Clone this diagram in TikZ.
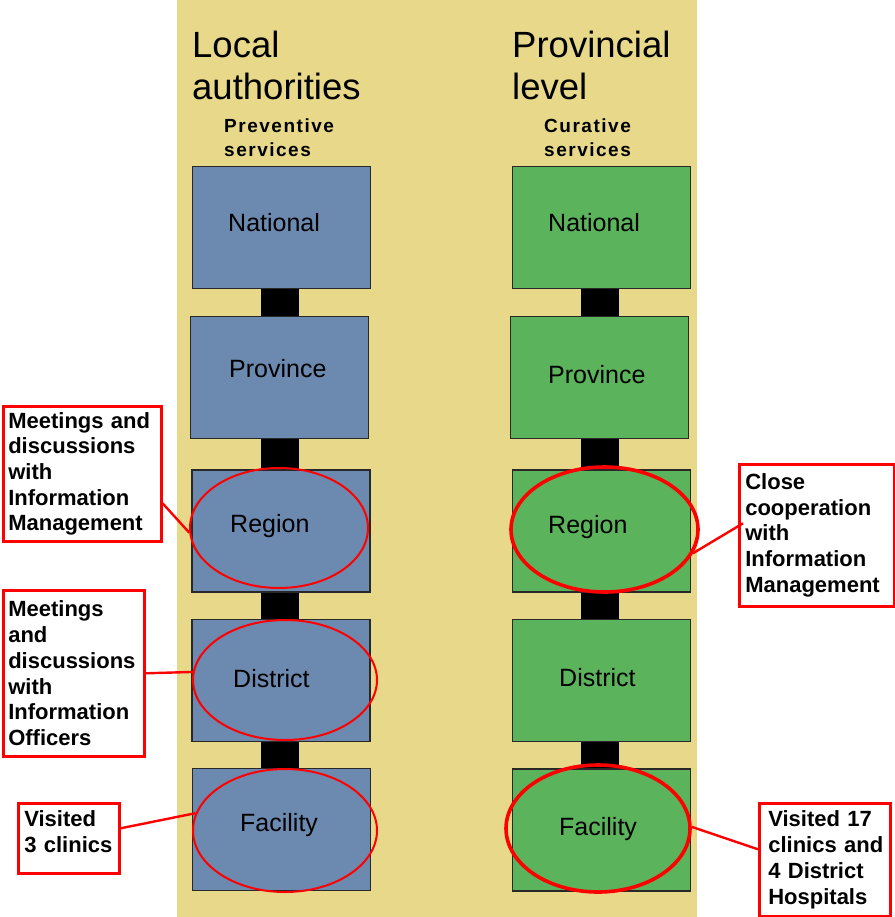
\documentclass[tikz,border=0pt]{standalone}
\usepackage{fontspec}
\setmainfont{Liberation Sans}
\newfontfamily\spacedbold[LetterSpace=8]{Liberation Sans Bold}
\usetikzlibrary{shapes.geometric}
\definecolor{bgyellow}{RGB}{231,216,138}
\definecolor{boxblue}{RGB}{108,137,176}
\definecolor{boxgreen}{RGB}{91,179,91}
\definecolor{boxedge}{RGB}{40,40,40}
\tikzset{
  lvlbox/.style={draw=boxedge, line width=1.2pt, minimum width=178pt, minimum height=122pt, inner sep=0pt},
  bluebox/.style={lvlbox, fill=boxblue},
  greenbox/.style={lvlbox, fill=boxgreen},
  bar/.style={line width=38pt, black},
  lvltext/.style={anchor=base west, inner sep=0pt, font=\fontsize{25}{30}\selectfont},
  titletext/.style={anchor=base west, inner sep=0pt, font=\fontsize{36.5}{42}\selectfont},
  subtext/.style={anchor=base west, inner sep=0pt, font=\spacedbold\fontsize{19}{24}\selectfont},
  ringL/.style={ellipse, draw=red, line width=2pt, inner sep=0pt},
  ringR/.style={ellipse, draw=red, line width=3.6pt, inner sep=0pt},
  callout/.style={draw=red, line width=2.6pt, fill=white, anchor=north west, align=left,
    font=\bfseries\fontsize{22}{25.7}\selectfont, inner ysep=0pt},
  pointer/.style={red, line width=2.4pt}
}
\begin{document}
\begin{tikzpicture}[x=1pt,y=1pt]
\useasboundingbox (0,0) rectangle (894,-917);
\fill[white] (0,0) rectangle (894,-917);
\fill[bgyellow] (177,0) rectangle (697,-917);

% titles
\node[titletext] (tL1) at (192,-58) {Local};
\node[titletext] (tL2) at (192,-100) {authorities};
\node[titletext] (tR1) at (512,-58) {Provincial};
\node[titletext] (tR2) at (512,-100) {level};
\node[subtext] (sL1) at (224,-133) {Preventive};
\node[subtext] (sL2) at (224,-157) {services};
\node[subtext] (sR1) at (544,-133) {Curative};
\node[subtext] (sR2) at (544,-157) {services};

% boxes (shapes first, so bars can use their anchors)
\node[bluebox] (natL) at (281.5,-227.5) {};
\node[bluebox] (provL) at (279.5,-377.5) {};
\node[bluebox] (regL) at (281,-531) {};
\node[bluebox] (distL) at (281,-680.5) {};
\node[bluebox] (facL) at (281.5,-829.5) {};
\node[greenbox] (natR) at (601.5,-227.5) {};
\node[greenbox] (provR) at (599.5,-377.5) {};
\node[greenbox] (regR) at (601.5,-531) {};
\node[greenbox] (distR) at (601.5,-680.5) {};
\node[greenbox] (facR) at (601.5,-830) {};

% bars between levels
\draw[bar] ([xshift=-1.5pt]natL.south) -- ([xshift=0.5pt]provL.north);
\draw[bar] ([xshift=0.5pt]provL.south) -- ([xshift=-1pt]regL.north);
\draw[bar] ([xshift=-1pt]regL.south) -- ([xshift=-1pt]distL.north);
\draw[bar] ([xshift=-1pt]distL.south) -- ([xshift=-1.5pt]facL.north);
\draw[bar] ([xshift=-1.5pt]natR.south) -- ([xshift=0.5pt]provR.north);
\draw[bar] ([xshift=0.5pt]provR.south) -- ([xshift=-1.5pt]regR.north);
\draw[bar] ([xshift=-1.5pt]regR.south) -- ([xshift=-1.5pt]distR.north);
\draw[bar] ([xshift=-1.5pt]distR.south) -- ([xshift=-1.5pt]facR.north);
% redraw boxes over the bar ends
\node[bluebox] (natL2) at (natL) {};
\node[bluebox] (provL2) at (provL) {};
\node[bluebox] (regL2) at (regL) {};
\node[bluebox] (distL2) at (distL) {};
\node[bluebox] (facL2) at (facL) {};
\node[greenbox] (natR2) at (natR) {};
\node[greenbox] (provR2) at (provR) {};
\node[greenbox] (regR2) at (regR) {};
\node[greenbox] (distR2) at (distR) {};
\node[greenbox] (facR2) at (facR) {};

% level labels
\node[lvltext] (lNatL) at (228,-231) {National};
\node[lvltext] (lProvL) at (229,-377) {Province};
\node[lvltext] (lRegL) at (230,-532) {Region};
\node[lvltext] (lDistL) at (233,-687) {District};
\node[lvltext] (lFacL) at (240,-831) {Facility};
\node[lvltext] (lNatR) at (548,-231) {National};
\node[lvltext] (lProvR) at (548,-383) {Province};
\node[lvltext] (lRegR) at (548,-533) {Region};
\node[lvltext] (lDistR) at (559,-686) {District};
\node[lvltext] (lFacR) at (559,-835) {Facility};

% red rings
\node[ringL, minimum width=178pt, minimum height=120pt] (eRegL) at (279,-528) {};
\node[ringL, minimum width=184pt, minimum height=120pt] (eDistL) at (285,-680) {};
\node[ringL, minimum width=184pt, minimum height=123pt] (eFacL) at (285,-830.5) {};
\node[ringR, minimum width=187pt, minimum height=125pt] (eRegR) at (604.5,-529.5) {};
\node[ringR, minimum width=184pt, minimum height=127pt] (eFacR) at (598,-828.5) {};

% callouts
\node[callout, inner xsep=5pt, text width=148pt, minimum height=135pt] (c1) at (2,-405)
  {\mbox{Meetings and}\\discussions\\with\\Information\\Management};
\node[callout, inner xsep=5pt, text width=131pt, minimum height=166pt] (c2) at (2,-589)
  {Meetings\\and\\discussions\\with\\Information\\Officers};
\node[callout, inner xsep=6pt, text width=89pt, minimum height=70pt] (c3) at (17,-802)
  {Visited\\\mbox{3 clinics}\rule[-14pt]{0pt}{14pt}};
\node[callout, inner xsep=6pt, text width=143pt, minimum height=142pt] (c4) at (738,-463)
  {Close\\cooperation\\with\\Information\\Management};
\node[callout, inner xsep=9pt, text width=113pt, minimum height=113pt] (c5) at (758,-802)
  {\mbox{Visited 17}\\\mbox{clinics and}\\\mbox{4 District}\\Hospitals};

% pointers
\draw[pointer] ([yshift=-29.5pt]c1.east) -- (eRegL.183);
\draw[pointer] (c2.east) -- (eDistL.175);
\draw[pointer] ([yshift=10pt]c3.east) -- (eFacL.169);
\draw[pointer] ([yshift=12pt,xshift=5pt]c4.west) -- (eRegR.345);
\draw[pointer] ([yshift=10.5pt]c5.west) -- (eFacR.1);
\end{tikzpicture}
\end{document}
